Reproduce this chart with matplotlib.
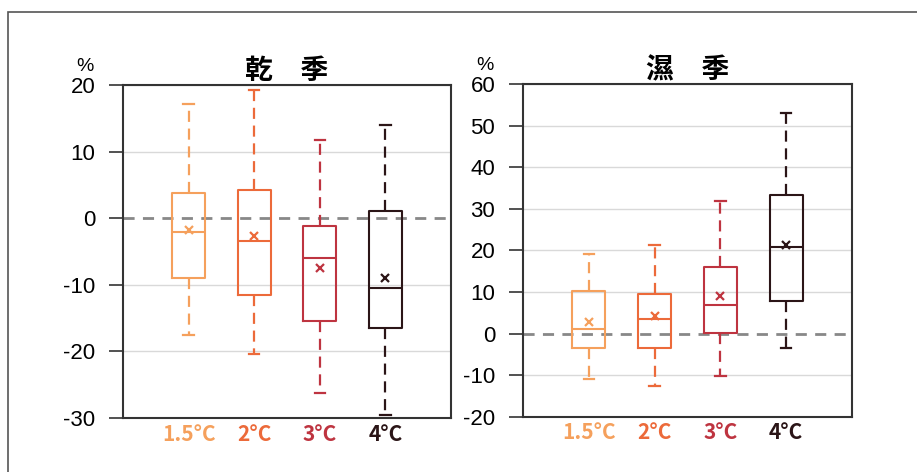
import matplotlib.pyplot as plt
from matplotlib.patches import Rectangle

plt.rcParams['font.family'] = ['Liberation Sans', 'DejaVu Sans']
plt.rcParams['axes.unicode_minus'] = False

labels = ['1.5°C', '2°C', '3°C', '4°C']
colors = ['#F5A05C', '#EC6A3A', '#BE3440', '#2B1517']

# dry season (乾季)
dry_whislo = [-17.5, -20.4, -26.3, -29.5]
dry_q1 = [-8.95, -11.6, -15.5, -16.55]
dry_med = [-2.05, -3.35, -6.05, -10.45]
dry_q3 = [3.75, 4.3, -1.15, 1.1]
dry_whishi = [17.2, 19.2, 11.7, 14.05]
dry_mean = [-1.8, -2.65, -7.55, -8.95]

# wet season (濕季)
wet_whislo = [-10.9, -12.65, -10.2, -3.5]
wet_q1 = [-3.5, -3.5, 0.1, 7.7]
wet_med = [1.05, 3.4, 6.9, 20.9]
wet_q3 = [10.2, 9.4, 15.9, 33.4]
wet_whishi = [19.1, 21.3, 31.9, 52.9]
wet_mean = [2.75, 4.1, 8.9, 21.2]

fig = plt.figure(figsize=(9.17, 4.72), dpi=100)
fig.patches.append(Rectangle((8 / 917, -0.1), 1.2, 1.1 - 12 / 472, transform=fig.transFigure,
                             fill=False, edgecolor='#555555', linewidth=1.2))

panels = [
    ([0.1341, 0.1144, 0.3577, 0.7055], '乾　季', (-30, 20), range(-30, 21, 10),
     dry_whislo, dry_q1, dry_med, dry_q3, dry_whishi, dry_mean),
    ([0.5703, 0.1172, 0.3588, 0.7049], '濕　季', (-20, 60), range(-20, 61, 10),
     wet_whislo, wet_q1, wet_med, wet_q3, wet_whishi, wet_mean),
]

for rect, title, ylim, ticks, lo, q1, med, q3, hi, mean in panels:
    ax = fig.add_axes(rect)
    for t in ticks:
        if t != 0:
            ax.axhline(t, color='#d9d9d9', linewidth=1.0, zorder=0)
    ax.axhline(0, color='#888888', linewidth=2.0, linestyle=(0, (4, 3)), zorder=1)
    for i in range(4):
        stats = [dict(whislo=lo[i], q1=q1[i], med=med[i], q3=q3[i], whishi=hi[i], mean=mean[i])]
        c = colors[i]
        ax.bxp(stats, positions=[i + 1], widths=0.5, showmeans=True, showfliers=False,
               boxprops=dict(color=c, linewidth=1.5),
               medianprops=dict(color=c, linewidth=1.5),
               whiskerprops=dict(color=c, linewidth=1.6, linestyle=(0, (5, 3))),
               capprops=dict(color=c, linewidth=1.6),
               capwidths=0.16,
               meanprops=dict(marker='x', markeredgecolor=c, markersize=6, markeredgewidth=1.6),
               manage_ticks=False)
    ax.set_xlim(0, 5)
    ax.set_ylim(*ylim)
    ax.set_yticks(list(ticks))
    ax.set_xticks([1, 2, 3, 4])
    ax.set_xticklabels(labels, family=['Noto Sans CJK JP', 'DejaVu Sans'], fontsize=15, fontweight='bold')
    for tl, c in zip(ax.get_xticklabels(), colors):
        tl.set_color(c)
    ax.tick_params(axis='x', length=0, pad=4)
    ax.tick_params(axis='y', length=10, width=1.2, color='#333333', labelsize=16, pad=10)
    for s in ax.spines.values():
        s.set_color('#333333')
        s.set_linewidth(1.5)
    ax.set_title(title, family=['Noto Sans CJK JP', 'DejaVu Sans'], fontsize=20, fontweight='bold', pad=4)
    ax.text(-0.115, 1.03, '%', transform=ax.transAxes, fontsize=14, ha='center', va='bottom')

fig.savefig('out.png', dpi=100)
